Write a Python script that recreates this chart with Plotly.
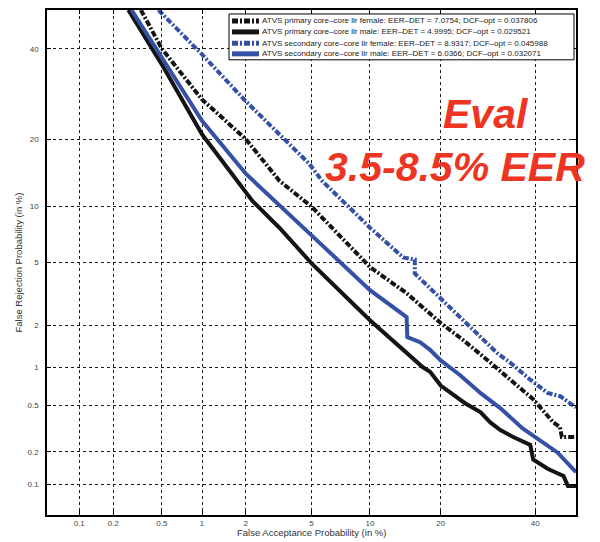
import plotly.graph_objects as go
from statistics import NormalDist

_nd = NormalDist()


def probit(pct_list):
    return [_nd.inv_cdf(v / 100.0) for v in pct_list]


# ---------------- data (percent) ----------------
tick_values_pct = [0.1, 0.2, 0.5, 1, 2, 5, 10, 20, 40]
tick_labels = ["0.1", "0.2", "0.5", "1", "2", "5", "10", "20", "40"]
axis_limits_pct = [0.05, 50]

series_labels = [
    "ATVS primary core\u2013core llr female: EER\u2013DET = 7.0754; DCF\u2013opt = 0.037806",
    "ATVS primary core\u2013core llr male: EER\u2013DET = 4.9995; DCF\u2013opt = 0.029521",
    "ATVS secondary core\u2013core llr female: EER\u2013DET = 8.9317; DCF\u2013opt = 0.045988",
    "ATVS secondary core\u2013core llr male: EER\u2013DET = 6.0366; DCF\u2013opt = 0.032071",
]

primary_female_fa = [0.34, 0.5, 1.0, 2.0, 3.25, 5.0, 10.0, 14.6, 20.0, 24.1, 29.7, 34.1, 39.5, 44.4, 46.0, 46.5, 50.0]
primary_female_fr = [50.0, 40.0, 28.0, 20.0, 13.3, 10.0, 4.7, 3.25, 2.07, 1.58, 1.08, 0.80, 0.56, 0.36, 0.33, 0.27, 0.27]

primary_male_fa = [0.268, 0.5, 1.0, 2.2, 3.25, 5.0, 10.0, 17.0, 18.2, 20.0, 24.5, 27.6, 29.7, 31.9, 34.8, 38.8, 39.5, 43.0, 46.9, 48.0, 50.0]
primary_male_fr = [50.0, 36.1, 20.9, 10.7, 7.8, 4.94, 2.16, 1.0, 0.92, 0.72, 0.52, 0.44, 0.36, 0.31, 0.27, 0.23, 0.17, 0.14, 0.12, 0.096, 0.096]

secondary_female_fa = [0.47, 1.0, 2.0, 4.86, 5.7, 10.0, 14.1, 15.8, 15.8, 20.0, 24.9, 28.0, 31.2, 34.1, 38.8, 43.0, 46.2, 50.0]
secondary_female_fr = [50.0, 38.6, 27.6, 15.8, 13.3, 7.8, 5.35, 5.2, 4.3, 3.0, 2.07, 1.6, 1.27, 1.08, 0.80, 0.63, 0.59, 0.48]

secondary_male_fa = [0.285, 0.5, 1.0, 2.0, 3.25, 5.0, 10.0, 14.6, 14.7, 16.6, 18.2, 20.0, 23.5, 27.6, 32.0, 37.0, 41.3, 45.4, 50.0]
secondary_male_fr = [50.0, 37.6, 23.5, 14.3, 10.1, 7.1, 3.4, 2.27, 1.65, 1.52, 1.34, 1.12, 0.87, 0.63, 0.47, 0.32, 0.25, 0.197, 0.13]

annotation_lines = ["Eval", "3.5-8.5% EER"]

# ---------------- styles ----------------
BLACK = "#141414"
BLUE = "#3451a6"
RED = "#ee3524"
DASHDOT = "6px,2px,2px,2px"
styles = [
    dict(color=BLACK, dash=DASHDOT),
    dict(color=BLACK, dash="solid"),
    dict(color=BLUE, dash=DASHDOT),
    dict(color=BLUE, dash="solid"),
]
series_data = [
    (primary_female_fa, primary_female_fr),
    (primary_male_fa, primary_male_fr),
    (secondary_female_fa, secondary_female_fr),
    (secondary_male_fa, secondary_male_fr),
]

fig = go.Figure()
for name, (fa, fr), st in zip(series_labels, series_data, styles):
    fig.add_trace(go.Scatter(
        x=probit(fa), y=probit(fr), mode="lines", name=name,
        line=dict(color=st["color"], dash=st["dash"], width=4),
        customdata=list(zip(fa, fr)),
        hovertemplate="FA %{customdata[0]}%<br>FR %{customdata[1]}%<extra></extra>",
    ))

rng = probit(axis_limits_pct)
axis_common = dict(
    range=rng, tickvals=probit(tick_values_pct), ticktext=tick_labels,
    showgrid=True, gridcolor="#1a1a1a", griddash="dot", gridwidth=1,
    showline=True, linecolor="black", linewidth=1.5, mirror="ticks",
    ticks="inside", ticklen=4, tickcolor="black", zeroline=False,
    tickfont=dict(size=8, color="#444"),
)
fig.update_xaxes(**axis_common)
fig.update_yaxes(**axis_common, ticklabelstandoff=5)

# The page places the figure 8px in from the top-left corner of the window,
# so the figure is sized/margined to put the plot area at window x 47..576, y 8..515.
OFF = 8
W, H = 600 - OFF, 542 - OFF
L, R, T, B = 47 - OFF, 24, 0, 27
pw, ph = W - L - R, H - T - B


def px_x(wx):  # window pixel -> paper
    return (wx - OFF - L) / pw


def px_y(wy):
    return (H - B - (wy - OFF)) / ph


shapes = []
annotations = []

# custom legend box
shapes.append(dict(type="rect", xref="paper", yref="paper",
                   x0=px_x(229), x1=px_x(574), y0=px_y(58), y1=px_y(12),
                   fillcolor="white", line=dict(color="black", width=1), layer="above"))
row_y = [19, 30, 41.5, 52]
for name, st, ry in zip(series_labels, styles, row_y):
    shapes.append(dict(type="line", xref="paper", yref="paper",
                       x0=px_x(232), x1=px_x(259), y0=px_y(ry), y1=px_y(ry),
                       line=dict(color=st["color"], dash=st["dash"], width=5), layer="above"))
    annotations.append(dict(xref="paper", yref="paper", x=px_x(260), y=px_y(ry),
                            xanchor="left", yanchor="middle", showarrow=False,
                            text=name, font=dict(size=8, color="#222")))

# red overlay text
red_font = dict(size=41, color=RED, weight="bold", style="italic",
                family="Liberation Sans, Arial")
annotations.append(dict(xref="paper", yref="paper", x=px_x(441), y=px_y(112),
                        xanchor="left", yanchor="middle", showarrow=False,
                        text=annotation_lines[0], font=red_font))
annotations.append(dict(xref="paper", yref="paper", x=px_x(323), y=px_y(166),
                        xanchor="left", yanchor="middle", showarrow=False,
                        text=annotation_lines[1], font=red_font))

# axis titles
annotations.append(dict(xref="paper", yref="paper", x=0.5, y=px_y(533),
                        xanchor="center", yanchor="middle", showarrow=False,
                        text="False Acceptance Probability (in %)",
                        font=dict(size=9.5, color="#333")))
annotations.append(dict(xref="paper", yref="paper", x=px_x(18), y=0.5,
                        xanchor="center", yanchor="middle", showarrow=False, textangle=-90,
                        text="False Rejection Probability (in %)",
                        font=dict(size=9.5, color="#333")))

fig.update_layout(
    width=W, height=H, margin=dict(l=L, r=R, t=T, b=B),
    plot_bgcolor="white", paper_bgcolor="white", showlegend=False,
    font=dict(family="Liberation Sans, Arial, sans-serif", size=8, color="#333"),
    shapes=shapes, annotations=annotations,
)

fig.write_html("out.html")
